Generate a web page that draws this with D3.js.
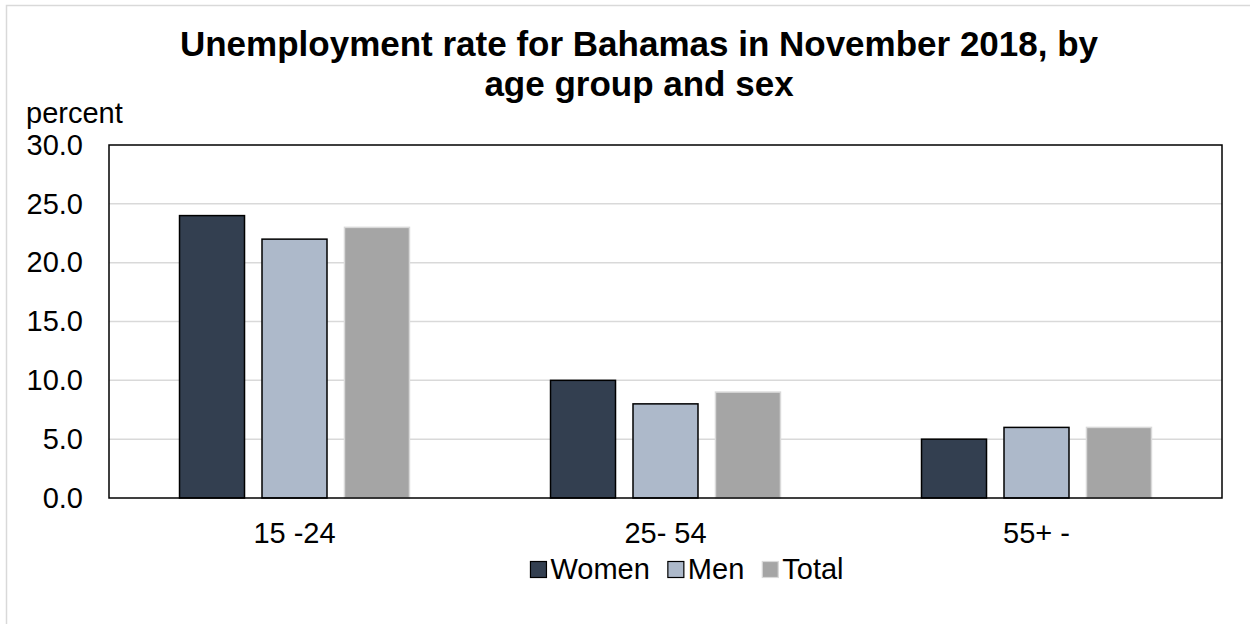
<!DOCTYPE html>
<html>
<head>
<meta charset="utf-8">
<script src="https://cdn.jsdelivr.net/npm/d3@7"></script>
<style>
    body { margin: 0; background: #fff; }
    text { font-family: "Liberation Sans", Arial, sans-serif; fill: #000; }
</style>
</head>
<body>
<svg id="chart"></svg>
<script>
var ageGroups = ['15 -24', '25- 54', '55+ -'];
var seriesNames = ['Women', 'Men', 'Total'];
var women = [24.0, 10.0, 5.0];
var men = [22.0, 8.0, 6.0];
var total = [23.0, 9.0, 6.0];
var yTicks = [0, 5, 10, 15, 20, 25, 30];

var width = 1250, height = 624;
var plot = { left: 109, right: 1222, top: 145, bottom: 498 };
var fills = { Women: '#333f50', Men: '#adb9ca', Total: '#a5a5a5' };
var strokes = { Women: '#000', Men: '#000', Total: '#d9d9d9' };
var labelSize = '29px';

var svg = d3.select('svg#chart')
    .attr('width', width)
    .attr('height', height) ;

// outer chart frame
svg.append('rect')
    .attr('x', 6.5)
    .attr('y', 5.5)
    .attr('width', width + 10)
    .attr('height', height + 10)
    .attr('fill', '#fff')
    .attr('stroke', '#d9d9d9')
    .attr('stroke-width', 1.5) ;

var x0 = d3.scaleBand()
    .domain(ageGroups)
    .range([plot.left, plot.right]) ;

var x1 = d3.scaleBand()
    .domain(seriesNames)
    .range([0, x0.bandwidth()])
    .paddingInner(0.212)
    .paddingOuter(0.855) ;

var y = d3.scaleLinear()
    .domain([0, 30])
    .range([plot.bottom, plot.top]) ;

// gridlines
svg.append('g')
    .selectAll('line')
    .data(yTicks.slice(1, -1))
    .enter().append('line')
    .attr('x1', plot.left)
    .attr('x2', plot.right)
    .attr('y1', function (d) { return y(d); })
    .attr('y2', function (d) { return y(d); })
    .attr('stroke', '#d9d9d9')
    .attr('stroke-width', 1.5) ;

// bars
var rows = ageGroups.map(function (g, i) {
    return { group: g, values: [
        { name: 'Women', value: women[i] },
        { name: 'Men', value: men[i] },
        { name: 'Total', value: total[i] }
    ] };
});

var groups = svg.append('g')
    .selectAll('g.group')
    .data(rows)
    .enter().append('g')
    .classed('group', true)
    .attr('transform', function (d) { return 'translate(' + x0(d.group) + ',0)'; }) ;

groups.selectAll('rect')
    .data(function (d) { return d.values; })
    .enter().append('rect')
    .attr('x', function (d) { return x1(d.name); })
    .attr('y', function (d) { return y(d.value); })
    .attr('width', x1.bandwidth())
    .attr('height', function (d) { return y(0) - y(d.value); })
    .attr('fill', function (d) { return fills[d.name]; })
    .attr('stroke', function (d) { return strokes[d.name]; })
    .attr('stroke-width', 1.5) ;

// plot frame
svg.append('rect')
    .attr('x', plot.left)
    .attr('y', plot.top)
    .attr('width', plot.right - plot.left)
    .attr('height', plot.bottom - plot.top)
    .attr('fill', 'none')
    .attr('stroke', '#000')
    .attr('stroke-width', 1.5) ;

// y axis labels
var yAxis = d3.axisLeft(y)
    .tickValues(yTicks)
    .tickFormat(d3.format('.1f'))
    .tickSize(0)
    .tickPadding(26) ;

svg.append('g')
    .attr('transform', 'translate(' + plot.left + ',0)')
    .call(yAxis)
    .call(function (g) { g.select('.domain').remove(); })
    .selectAll('text')
    .style('font-family', '"Liberation Sans", Arial, sans-serif')
    .style('font-size', labelSize)
    .attr('fill', '#000') ;

// x axis labels
var xAxis = d3.axisBottom(x0)
    .tickSize(0)
    .tickPadding(24) ;

svg.append('g')
    .attr('transform', 'translate(0,' + plot.bottom + ')')
    .call(xAxis)
    .call(function (g) { g.select('.domain').remove(); })
    .selectAll('text')
    .style('font-family', '"Liberation Sans", Arial, sans-serif')
    .style('font-size', labelSize)
    .attr('fill', '#000') ;

// axis unit
svg.append('text')
    .attr('x', 26)
    .attr('y', 123)
    .style('font-size', labelSize)
    .text('percent') ;

// title
var title = svg.append('text')
    .attr('text-anchor', 'middle')
    .style('font-size', '35px')
    .style('font-weight', 'bold') ;
title.append('tspan')
    .attr('x', 639)
    .attr('y', 56)
    .text('Unemployment rate for Bahamas in November 2018, by') ;
title.append('tspan')
    .attr('x', 639)
    .attr('y', 96)
    .text('age group and sex') ;

// legend
var legend = svg.append('g')
    .attr('transform', 'translate(0,569)') ;
var lx = 0;
seriesNames.forEach(function (name) {
    var item = legend.append('g').attr('transform', 'translate(' + lx + ',0)');
    item.append('rect')
        .attr('x', 0)
        .attr('y', -7.5)
        .attr('width', 16)
        .attr('height', 16)
        .attr('fill', fills[name])
        .attr('stroke', strokes[name])
        .attr('stroke-width', 1.2) ;
    var t = item.append('text')
        .attr('x', 20)
        .attr('y', 10)
        .style('font-size', labelSize)
        .text(name) ;
    lx += 20 + t.node().getComputedTextLength() + 18;
});
var legendWidth = lx - 18;
legend.attr('transform', 'translate(' + (687 - legendWidth / 2) + ',569)') ;
</script>
</body>
</html>
